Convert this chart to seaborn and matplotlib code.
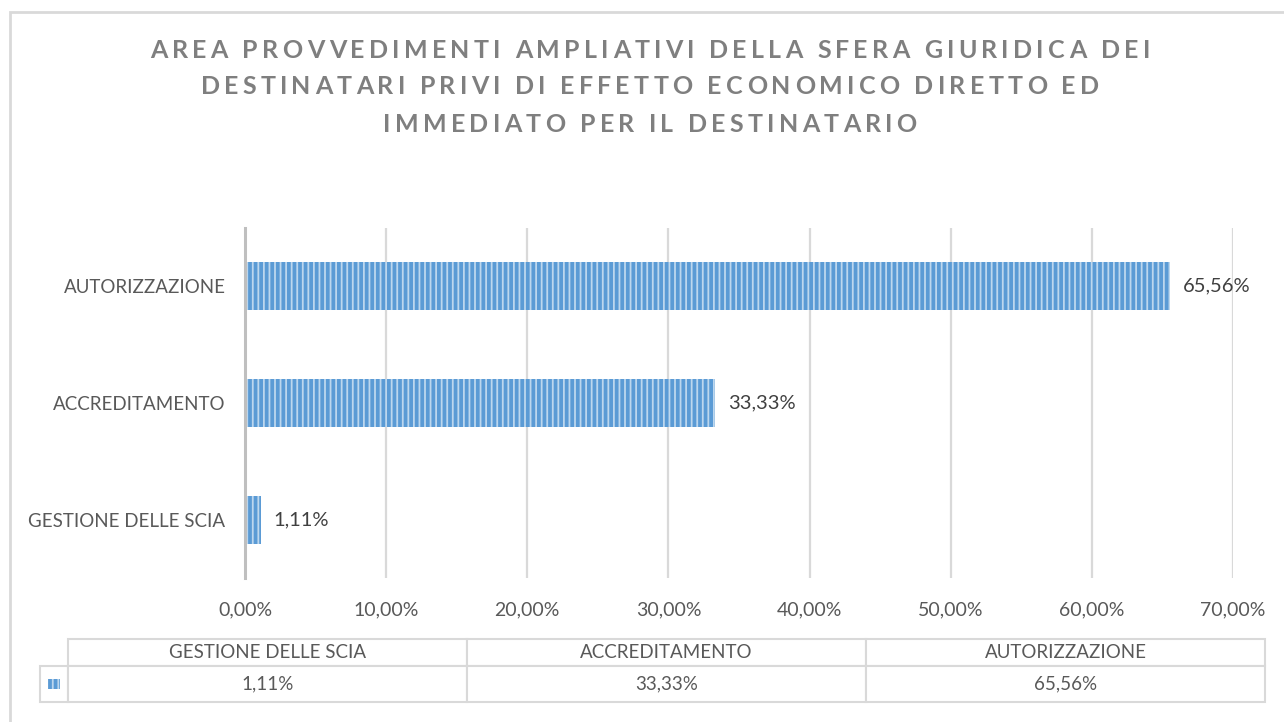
import matplotlib
matplotlib.use("Agg")
import matplotlib.pyplot as plt
import seaborn as sns
import pandas as pd
from matplotlib.patches import Rectangle

# ---- data ----
categories = ["GESTIONE DELLE SCIA", "ACCREDITAMENTO", "AUTORIZZAZIONE"]
values = [1.11, 33.33, 65.56]
x_ticks = [0, 10, 20, 30, 40, 50, 60, 70]
title_lines = [
    "AREA PROVVEDIMENTI AMPLIATIVI DELLA SFERA GIURIDICA DEI",
    "DESTINATARI PRIVI DI EFFETTO ECONOMICO DIRETTO ED",
    "IMMEDIATO PER IL DESTINATARIO",
]

def pct(v):
    return f"{v:.2f}%".replace(".", ",")

sns.set_style("white")
plt.rcParams["font.family"] = ["Lato", "DejaVu Sans"]
plt.rcParams["hatch.linewidth"] = 1.3

BAR = "#5B9BD5"
HATCH = "#BDD7EE"
TXT = "#595959"

W, H = 1284, 722
fig = plt.figure(figsize=(12.84, 7.22), dpi=100)
fig.patch.set_facecolor("white")
# outer chart border
fig.add_artist(Rectangle((10 / W, -0.2), 1.2, (H - 12) / H + 0.2,
                         transform=fig.transFigure, fill=False,
                         edgecolor="#D9D9D9", lw=2, zorder=0))

ax = fig.add_axes([245 / W, (H - 578) / H, (1233 - 245) / W, 350 / H])
df = pd.DataFrame({"cat": categories, "val": values})
bar_order = categories[::-1]
sns.barplot(data=df, x="val", y="cat", order=bar_order, color=BAR,
            saturation=1, width=0.41, orient="h", ax=ax, zorder=3)
for p in ax.patches:
    p.set_hatch("|||")
    p.set_edgecolor(HATCH)
    p.set_linewidth(0)

ax.set_xlim(0, 70)
ax.set_ylim(2.5, -0.5)
ax.set_xticks(x_ticks)
ax.set_xticklabels([pct(v) for v in x_ticks], color=TXT, fontsize=14)
ax.tick_params(axis="x", length=0, pad=17)
ax.tick_params(axis="y", length=0, pad=14, labelsize=13.5, labelcolor=TXT)
ax.set_xlabel("")
ax.set_ylabel("")
ax.grid(axis="x", color="#D9D9D9", lw=1.6, zorder=0)
ax.grid(axis="y", visible=False)
for s in ["top", "right", "bottom"]:
    ax.spines[s].set_visible(False)
ax.spines["left"].set_color("#BFBFBF")
ax.spines["left"].set_linewidth(2.2)
ax.spines["left"].set_zorder(4)

val_map = dict(zip(categories, values))
ax.bar_label(ax.containers[0], labels=[pct(val_map[c]) for c in bar_order],
             padding=9, color="#404040", fontsize=14.5)

# title with letter spacing (characters laid out one by one)
renderer = fig.canvas.get_renderer()
TFS = 18
def _w(s):
    t = fig.text(0, 0, s, fontsize=TFS, fontweight="bold")
    w = t.get_window_extent(renderer).width
    t.remove()
    return w
base = _w("xx")
cw = {ch: _w("x" + ch + "x") - base for ch in set("".join(title_lines))}
line1 = title_lines[0]
natural = sum(cw[c] for c in line1)
spacing = (1000 - natural) / (len(line1) - 1)
for i, line in enumerate(title_lines):
    total = sum(cw[c] for c in line) + spacing * (len(line) - 1)
    x = 650 - total / 2
    y = 1 - (50 + 37 * i) / H
    for ch in line:
        if ch != " ":
            fig.text(x / W, y, ch, ha="left", va="center", fontsize=TFS,
                     fontweight="bold", color="#7F7F7F")
        x += cw[ch] + spacing

# data table
tax = fig.add_axes([40 / W, (H - 702) / H, 1225 / W, 63 / H])
tax.axis("off")
cell_text = [[""] + [pct(v) for v in values]]
col_labels = [""] + categories
widths = [28, 399, 399, 399]
tot = sum(widths)
tbl = tax.table(cellText=cell_text, colLabels=col_labels,
                colWidths=[w / tot for w in widths], cellLoc="center",
                bbox=[0, 0, 1, 1])
tbl.auto_set_font_size(False)
for (r, c), cell in tbl.get_celld().items():
    cell.set_edgecolor("#D9D9D9")
    cell.set_linewidth(1.5)
    cell.set_height(27 if r == 0 else 36)
    cell.get_text().set_color(TXT)
    cell.get_text().set_fontsize(13.5)
tbl[0, 0].visible_edges = ""
# legend key in the table
kx = 14 / 1225
ky = 18 / 63
tax.add_patch(Rectangle((kx - 6 / 1225, ky - 5 / 63), 12 / 1225, 10 / 63,
                        transform=tax.transAxes, facecolor=BAR, edgecolor=HATCH,
                        hatch="|||", lw=0, zorder=5))

fig.savefig("out.png", dpi=100)
